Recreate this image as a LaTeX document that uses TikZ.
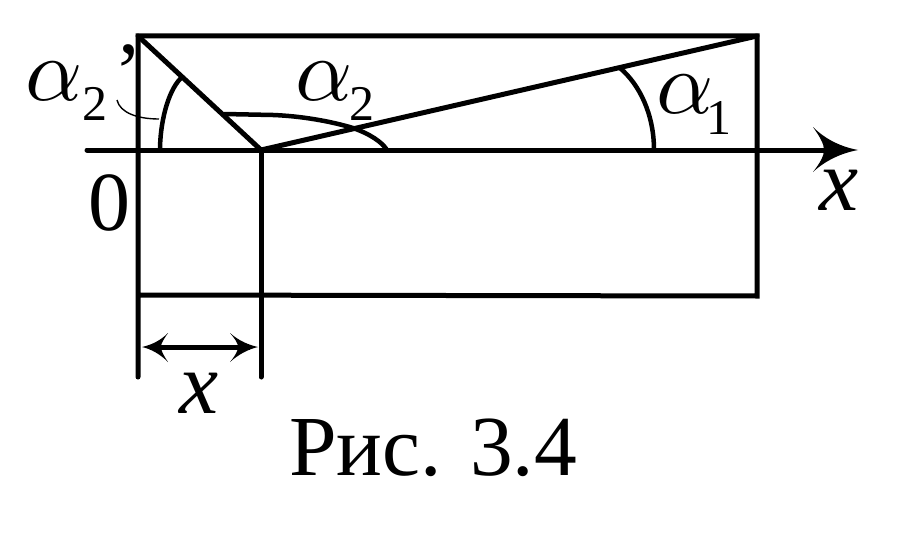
\documentclass[tikz,border=0pt]{standalone}
\usepackage{graphicx}
\usepackage{fontspec}
\setmainfont{Liberation Serif}
\newcommand{\bigalpha}{\scalebox{8.9}{$\alpha$}}
\tikzset{
  x=1pt,y=-1pt,
  ln/.style={line width=5pt,line cap=round,line join=miter,black},
  arcln/.style={line width=4.5pt,black},
  thinln/.style={line width=1.4pt,black},
  tipfill/.style={fill=black,draw=none},
  lab/.style={inner sep=0pt,outer sep=0pt,anchor=base west,text=black},
  big/.style={lab,font=\fontsize{88}{88}\selectfont\itshape},
  sub/.style={lab,font=\fontsize{50}{50}\selectfont},
  num/.style={lab,font=\fontsize{84}{84}\selectfont},
}
\begin{document}
\begin{tikzpicture}
\useasboundingbox (0,0) rectangle (921,543);
\coordinate (TL) at (138,36);
\coordinate (TR) at (757,36);
\coordinate (BL) at (138,295);
\coordinate (BR) at (757,296);
\coordinate (O) at (261,150);
\coordinate (Bm) at (261,295);
\coordinate (L0) at (138,377);
\coordinate (L1) at (261,377);
\coordinate (Ax0) at (87,150);
\coordinate (Ax1) at (830,150);
\coordinate (DA) at (150,347);
\coordinate (DB) at (250,347);
% frame
\draw[ln] (L0) -- (TL) -- (TR) -- (BR) -- (BL);
\draw[ln] (O) -- (L1);
\draw[ln] (Ax0) -- (Ax1);
\draw[ln] (TL) -- (O) -- (TR);
% angle arcs
\draw[arcln] (654,150) .. controls (654,115) and (640,85) .. (620,68);
\draw[arcln] (224,114) -- (273,115) .. controls (300,116) and (330,121) .. (353,128)
  .. controls (370,134) and (382,142) .. (387,150);
\draw[arcln] (160,150) .. controls (160,125) and (167,92) .. (181,78);
\draw[thinln] (117,100) .. controls (120,113) and (138,119) .. (159,119);
% arrow heads
\fill[tipfill] (858,150) .. controls (842,147) and (826,140) .. (813,127)
  .. controls (820,137) and (824,144) .. (824,150)
  .. controls (824,156) and (820,163) .. (813,172)
  .. controls (826,160) and (842,153) .. (858,150) -- cycle;
\draw[line width=5pt] (DA) -- (DB);
\fill[tipfill] (142,347) .. controls (151,345) and (160,341) .. (168,333)
  .. controls (164,339) and (161,343) .. (161,347)
  .. controls (161,351) and (164,356) .. (168,362)
  .. controls (160,354) and (151,349) .. (142,347) -- cycle;
\fill[tipfill] (258,347) .. controls (249,345) and (239,341) .. (230,333)
  .. controls (235,339) and (238,343) .. (238,347)
  .. controls (238,351) and (235,356) .. (230,362)
  .. controls (239,354) and (249,349) .. (258,347) -- cycle;
% labels
\node[lab] (a2p) at (25,100) {\bigalpha};
\node[sub] (s2p) at (82,121) {2};
\node[num] (pr) at (114,100) {\char"0027};
\node[lab] (a2) at (295,100) {\bigalpha};
\node[sub] (s2) at (349,121) {2};
\node[lab] (a1) at (656,113) {\bigalpha};
\node[sub] (s1) at (706,134) {1};
\node[big] (xa) at (819,210) {x};
\node[big] (xb) at (179,413) {x};
\node[num] (zero) at (88,230) {0};
\node[lab,font=\fontsize{85.5}{86}\selectfont] (cap) at (289,475) {Рис. 3.4};
\end{tikzpicture}
\end{document}
